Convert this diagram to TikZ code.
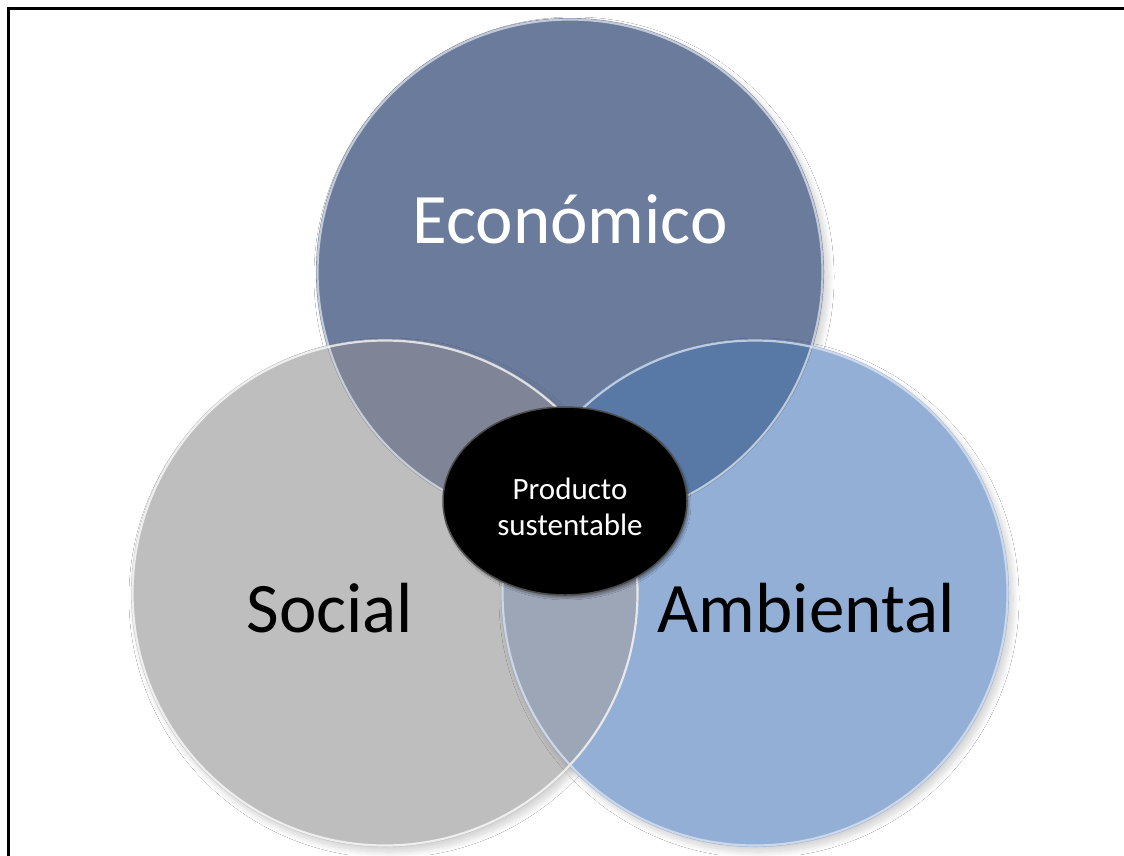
\documentclass[tikz,border=0pt]{standalone}
\usepackage{fontspec}
\setmainfont{Carlito}
\usetikzlibrary{shapes.geometric,shadows.blur}
\definecolor{ecoC}{HTML}{6B7B9C}
\definecolor{socC}{HTML}{BEBEBE}
\definecolor{ambC}{HTML}{94AFD5}
\definecolor{esC}{HTML}{7F8597}
\definecolor{eaC}{HTML}{5878A6}
\definecolor{saC}{HTML}{9DA6B7}
\definecolor{esaC}{HTML}{6E7E98}
\tikzset{
  bigcircle/.style={circle, minimum size=508pt, inner sep=0pt,
    blur shadow={shadow blur steps=16, shadow blur radius=6pt, shadow xshift=4pt, shadow yshift=-5pt, shadow opacity=18}},
  rim/.style={draw=white, line width=2.2pt, opacity=0.75},
  bigtext/.style={anchor=base, font=\fontsize{71}{82}\selectfont},
}
\begin{document}
\begin{tikzpicture}[x=1pt,y=-1pt]
\useasboundingbox (0,0) rectangle (1124,855);
\fill[white] (0,0) rectangle (1124,855);
% frame
\draw[line width=3pt, black] (8.5,860) -- (8.5,8.5) -- (1130,8.5);
% circles
\node[bigcircle, fill=ecoC] (eco) at (570,272) {};
\node[bigcircle, fill=socC] (soc) at (385,593) {};
\node[bigcircle, fill=ambC] (amb) at (755,593) {};
% overlaps with Economico
\begin{scope}
  \clip (570,272) circle (254pt);
  \fill[esC] (385,593) circle (254pt);
  \fill[eaC] (755,593) circle (254pt);
  \clip (385,593) circle (254pt);
  \fill[esaC] (755,593) circle (254pt);
\end{scope}
% social-ambiental outside economico
\begin{scope}
  \clip (755,593) circle (254pt);
  \clip (-10,-10) -- (1134,-10) -- (1134,865) -- (-10,865) -- cycle
        (570,272) circle (254pt);
  \clip (385,593) circle (254pt);
  \fill[saC] (385,593) circle (254pt);
\end{scope}
% rims
\draw[rim, draw=white!80!ecoC] (eco.center) circle (252.5pt);
\draw[rim] (soc.center) circle (252.5pt);
\draw[rim, draw=white!70!ambC] (amb.center) circle (252.5pt);
% texts
\node[bigtext, text=white] (ecot) at (570,243) {Económico};
\node[bigtext, text=black] (soct) at (330,632) {Social};
\node[bigtext, text=black] (ambt) at (806,632) {Ambiental};
% center ellipse
\node[ellipse, fill=black, draw=black!70, line width=1.5pt, minimum width=244pt, minimum height=188pt,
      blur shadow={shadow blur steps=8, shadow xshift=2pt, shadow yshift=-3pt, shadow opacity=35}]
      (prod) at (565,501) {};
\node[text=white, align=center, font=\fontsize{31}{36}\selectfont, yshift=-6pt] (prodt) at (570,501)
      {Producto\\sustentable};
\end{tikzpicture}
\end{document}
